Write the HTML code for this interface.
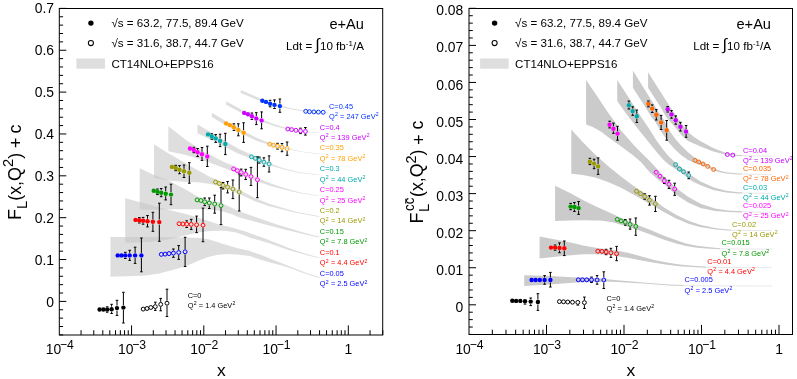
<!DOCTYPE html>
<html><head><meta charset="utf-8"><title>FL</title>
<style>html,body{margin:0;padding:0;background:#fff}svg{display:block}text{font-family:"Liberation Sans", sans-serif;fill:#000}</style>
</head><body>
<svg width="797" height="379" viewBox="0 0 797 379">
<rect width="797" height="379" fill="#fff"/>
<defs><filter id="idf" x="0" y="0" width="797" height="379" filterUnits="userSpaceOnUse" color-interpolation-filters="sRGB"><feOffset dx="0" dy="0"/></filter></defs>
<g filter="url(#idf)">
<g>
<polygon points="110.5,237 143.6,237 172.6,237.2 187,237.4 199,237.9 208.5,239.2 218,242.2 227.5,245.3 237,248 250,251.1 260,254.6 270,258.6 280,262.5 290,266.5 300,270.5 310,274.2 319.4,277.1 319.4,278.1 310,275.2 300,271.7 290,268 280,265 270,262.4 260,259.4 250,256.1 237,254.6 227.5,254 218,254.7 209,256.8 199,260.6 187,265.7 172.6,270 158,273.8 143.6,275.8 110.5,276.7" fill="#c6c6c6" fill-opacity="0.58"/>
<polygon points="125.2,198.2 139.7,202 160.6,207.7 173.3,210.9 186,214 198.6,217.8 210,221.6 220,224.7 232.7,227.8 245.3,231.6 255,235 265,238.5 275,242.6 285,246.5 295,250.3 305,253.6 319.3,257.4 319.3,258.2 310,255.9 300,253.3 290,250.4 280,247 270,243.6 260,240.6 250,237.8 245,235.6 235,232.3 225,230.8 216,230.8 208,231.3 198,232.5 186,235.3 173,238.5 160,241 146,242.2 125.2,242.8" fill="#c6c6c6" fill-opacity="0.58"/>
<polygon points="139.7,168.2 154,174.9 168,180.3 180,186.6 190,192.1 196,195.8 205,199.3 221,202.7 232.7,208.3 238,210.9 250.6,215.3 263.3,219.7 276,224.2 288.6,228 300,231.5 308.6,234 319.3,236.5 319.3,237.5 308.6,235.2 300,233.2 288.6,230.5 276,227.3 263.3,223.9 250.6,220.4 238,217 232.7,214.6 221,210.9 212,209.8 200,209.2 180,209.3 160,209.6 139.7,209.7" fill="#c6c6c6" fill-opacity="0.58"/>
<polygon points="154,144.3 167,152.6 180,160 192,167 200,171.5 210,177 215.4,179 219.2,180.7 223,182.8 225,183.66 227.5,184.69 232.9,186.78 239,189.9 239.2,190.01 254,197.6 254.2,197.71 270,203.98 270.6,204.22 295.9,211.8 296,211.82 319.3,216.3 319.3,216.9 296,212.82 295.9,212.8 270.6,206.58 270,206.38 254.2,200.9 254,200.8 239.2,193.99 239,193.9 232.9,191.22 227.5,189.51 225,188.66 223,188 219.2,186.3 215.4,185 210,184 200,182.6 190,181.9 180,181.6 168,180.6 154,178" fill="#c6c6c6" fill-opacity="0.58"/>
<polygon points="168.3,126.3 186,139.9 205,152.3 224,162.1 233.6,166.1 237.4,168.07 241.2,170.03 245,171.8 245.7,172.13 251.1,174.45 257,177.7 257.4,177.92 270,183.3 285,188.35 300,192.4 319.3,195.7 319.3,196.3 300,193.2 285,189.65 270,185.7 257.4,181.48 257,181.3 251.1,178.55 245.7,176.67 245,176.4 241.2,174.97 237.4,173.33 233.6,171.7 224,168 205,160.8 186,155.1 168.3,151.3" fill="#c6c6c6" fill-opacity="0.58"/>
<polygon points="197.5,124.4 207.9,130.53 211.7,132.83 215,134.65 215.5,134.92 219.9,137.62 225.3,140.96 235,146.75 238,148.52 251.5,154.86 255,156.47 255.3,156.62 259.3,158.56 263.9,160.93 269.1,163.05 270,163.4 285,168.85 300,172.22 319.3,174.7 319.3,175.3 300,172.98 285,169.75 270,165.2 269.1,164.95 263.9,163.47 259.3,161.64 255.3,160.18 255,160.07 251.5,158.74 238,153.48 235,151.95 225.3,147.04 219.9,144.18 215.5,141.88 215,141.65 211.7,140.17 207.9,138.27 197.5,133.2" fill="#c6c6c6" fill-opacity="0.58"/>
<polygon points="211.8,112.7 226,121.36 229.8,123.1 230,123.2 233.8,125.25 238.2,128.01 243.5,130.88 245,131.66 256,137.59 265,141.32 269.7,143.23 273.5,144.33 277.5,145.44 282,146.67 285,147.51 287.1,148.08 300,151.15 319.3,153.7 319.3,154.3 300,151.85 287.1,149.12 285,148.61 282,147.93 277.5,146.96 273.5,146.07 269.7,145.17 265,143.52 256,140.41 245,135.26 243.5,134.52 238.2,131.79 233.8,129.15 230,127.2 229.8,127.1 226,125.44 211.8,117.1" fill="#c6c6c6" fill-opacity="0.58"/>
<polygon points="226.1,101.3 244,111.09 245,111.49 247.8,112.67 251.8,114.66 256.2,117.16 261.5,119.19 262,119.38 275,124.44 285,127.59 287.8,128.45 291.6,129.11 295.9,129.88 300,130.48 300.5,130.55 305.4,131.16 319.3,132.7 319.3,133.3 305.4,131.84 300.5,131.25 300,131.18 295.9,130.72 291.6,130.09 287.8,129.55 285,128.79 275,126.16 262,121.78 261.5,121.61 256.2,119.84 251.8,117.54 247.8,115.73 245,114.69 244,114.31 226.1,104.7" fill="#c6c6c6" fill-opacity="0.58"/>
<polygon points="240.7,89.9 262,99.26 265,100.33 265.8,100.63 270,102.67 274.4,104.01 279.7,105.29 280,105.37 292,108.54 295,109.1 305.7,110.93 309.5,111.34 313.9,111.56 318.4,111.77 323.2,111.99 328,112.2 328,112.8 323.2,112.61 318.4,112.43 313.9,112.24 309.5,112.06 305.7,111.67 295,109.9 292,109.46 280,106.77 279.7,106.71 274.4,105.79 270,104.73 265.8,102.97 265,102.73 262,101.74 240.7,92.9" fill="#c6c6c6" fill-opacity="0.58"/>
</g>
<g>
<polygon points="524.2,275.3 550,276.1 576,277.6 599,278.2 604,278.9 617,280.2 630,281.2 643,282.4 656,283.6 669,284.6 683,285.1 683,285.9 669,285.5 656,284.6 643,283.6 630,282.7 617,282 604,281.6 599,281.9 576,282.6 550,284.6 524.2,285.9" fill="#cbcbcb"/>
<path d="M683 285.5L698 285.8L772 286" stroke="#cbcbcb" stroke-width="0.45" fill="none"/>
<polygon points="539.6,236.6 558,240 570.6,242.6 583.3,245.5 596,247.8 608.6,249.6 616.3,250.6 629,253 641.6,256.6 654.3,260 667,262.6 679.6,264.6 692.3,265.8 705,266.6 706,266.61 706,267.71 705,267.7 692.3,267.1 679.6,266.2 667,264.8 654.3,262.8 641.6,260.4 629,258 616.3,256 608.6,254.8 596,254.2 583.3,254.3 570.6,255.2 558,256.5 539.6,258.4" fill="#cbcbcb"/>
<path d="M706 267.16L721 267.48L772 267.7" stroke="#cbcbcb" stroke-width="0.45" fill="none"/>
<polygon points="555.1,185.7 570.6,193.3 583.3,200.3 596,206.6 600,208.3 612.7,214 625.3,219.7 638,225.2 650.6,230 663.3,235.4 676,240 686,243.4 697,245.8 710,247.3 720,248.14 720,249.17 710,248.7 697,247.7 686,246 676,243.4 663.3,239.4 650.6,234.6 638,230 625.3,226 612.7,222.2 600,220.5 596,220.5 583.3,220.3 570.6,220.5 555.1,221.1" fill="#cbcbcb"/>
<path d="M720 248.65L735 248.95L772 249.15" stroke="#cbcbcb" stroke-width="0.45" fill="none"/>
<polygon points="571.3,129.5 582.7,142.1 595.3,154.8 608,166.1 620.6,176.3 633.3,185.7 646,194.3 655,200.8 663.3,207 676,214.8 688.6,220.7 700,224.8 716,228.3 731,229.7 731,230.7 716,229.5 700,226.9 688.6,223.7 676,218.6 663.3,211.8 655,206.8 649.7,204 643.4,200.3 633.3,194.6 620.6,187.6 608,182 595.3,177.5 582.7,175 571.3,173.7" fill="#cbcbcb"/>
<path d="M731 230.2L746 230.44L772 230.6" stroke="#cbcbcb" stroke-width="0.45" fill="none"/>
<polygon points="586.1,79.9 597,96 608,112.5 620.6,130 633.3,144.5 642,153.5 650,161.3 662.7,175.2 675.3,187.2 688,196.7 700.6,203.7 715,208.5 728,210.6 742,211.37 742,212.38 728,211.9 715,210.9 700.6,208 688,202.4 675.3,194.2 662.7,183 658.6,180 650,172.5 646,168 640.9,162 633.3,155.4 620.6,145.9 608,137 601.6,132 592.8,126.9 586.1,124.4" fill="#cbcbcb"/>
<path d="M742 211.88L757 212.13L772 212.3" stroke="#cbcbcb" stroke-width="0.45" fill="none"/>
<polygon points="617.2,79.9 628,96.5 638.4,113 650,130.1 656.3,140.3 662.7,149.1 669,156.7 675.5,162.5 683,169 691.8,175.8 700.6,181.5 713.3,187.3 726,190.8 738.6,192.3 742,192.36 742,193.45 738.6,193.4 726,192.5 713.3,190.1 700.6,185.3 691.8,180.9 683,174 675.5,169 669,164.8 663.7,160 657,152.5 650,143.7 640,131.5 629.5,118 625.7,113 617.2,101" fill="#cbcbcb"/>
<path d="M742 192.91L757 193.2L772 193.4" stroke="#cbcbcb" stroke-width="0.45" fill="none"/>
<polygon points="632.9,70.6 645,90 658.6,112 663.9,120 669,130.1 675.3,139 681.6,146 688,152.3 694.3,157.3 700,160.8 707.8,164.8 713.5,168.2 720,170.8 726,172.2 738.6,173.5 742,173.57 742,174.57 738.6,174.5 726,173.4 720,172.2 713.5,170.6 707.8,167.6 700,164.8 694.3,162.8 688,159.9 681.6,155.4 675.3,149.7 669,142.8 662.7,133.9 654.4,120.5 651,116.5 645.9,108 632.9,87.7" fill="#cbcbcb"/>
<path d="M742 174.07L757 174.45L772 174.7" stroke="#cbcbcb" stroke-width="0.45" fill="none"/>
<polygon points="648.1,72.3 659,89.5 670,106.7 679.1,120 688,132 694,137 700.6,141.3 713.3,148.1 726,152.9 738.6,155 742,155.07 742,156.06 738.6,156 726,154.8 713.3,151.6 700.6,146.6 688,140.9 681.6,135.2 675.3,127.6 669,120.3 666.2,117 661.1,108 648.1,87.7" fill="#cbcbcb"/>
<path d="M742 155.57L757 155.92L772 156.15" stroke="#cbcbcb" stroke-width="0.45" fill="none"/>
</g>
<g>
<path d="M107.2 307V306.8M105.9 306.8H108.5M107.2 312V312.2M105.9 312.2H108.5M111.6 306.7V304.3M110.3 304.3H112.9M111.6 311.7V313.5M110.3 313.5H112.9M117 305.6V300.3M115.7 300.3H118.3M117 310.6V315.4M115.7 315.4H118.3M123.4 305.1V292.3M122.1 292.3H124.7M123.4 310.1V323M122.1 323H124.7" stroke="#000" stroke-width="1" fill="none"/>
<circle cx="99.6" cy="309.5" r="2.2" fill="#000"/><circle cx="103.4" cy="309.5" r="2.2" fill="#000"/><circle cx="107.2" cy="309.5" r="2.2" fill="#000"/><circle cx="111.6" cy="309.2" r="2.2" fill="#000"/><circle cx="117" cy="308.1" r="2.2" fill="#000"/><circle cx="123.4" cy="307.6" r="2.2" fill="#000"/>
<path d="M155.3 304.1V302.2M154 302.2H156.6M155.3 309.1V310.4M154 310.4H156.6M160.7 301.9V298.4M159.4 298.4H162M160.7 306.9V310.8M159.4 310.8H162M167 300.7V289.2M165.7 289.2H168.3M167 305.7V316.5M165.7 316.5H168.3" stroke="#000" stroke-width="1" fill="none"/>
<circle cx="143.2" cy="309.1" r="1.9500000000000002" fill="none" stroke="#000" stroke-width="1"/><circle cx="147" cy="308.5" r="1.9500000000000002" fill="none" stroke="#000" stroke-width="1"/><circle cx="150.8" cy="307.5" r="1.9500000000000002" fill="none" stroke="#000" stroke-width="1"/><circle cx="155.3" cy="306.6" r="1.9500000000000002" fill="none" stroke="#000" stroke-width="1"/><circle cx="160.7" cy="304.4" r="1.9500000000000002" fill="none" stroke="#000" stroke-width="1"/><circle cx="167" cy="303.2" r="1.9500000000000002" fill="none" stroke="#000" stroke-width="1"/>
<path d="M125.3 252.9V252.3M124 252.3H126.6M125.3 257.9V258.5M124 258.5H126.6M129.7 252.9V250.3M128.4 250.3H131M129.7 257.9V260.4M128.4 260.4H131M135.1 252.9V247.2M133.8 247.2H136.4M135.1 257.9V263.4M133.8 263.4H136.4M141.4 252.9V238M140.1 238H142.7M141.4 257.9V271.8M140.1 271.8H142.7" stroke="#000" stroke-width="1" fill="none"/>
<circle cx="117.7" cy="255.4" r="2.2" fill="#0000ff"/><circle cx="121.5" cy="255.4" r="2.2" fill="#0000ff"/><circle cx="125.3" cy="255.4" r="2.2" fill="#0000ff"/><circle cx="129.7" cy="255.4" r="2.2" fill="#0000ff"/><circle cx="135.1" cy="255.4" r="2.2" fill="#0000ff"/><circle cx="141.4" cy="255.4" r="2.2" fill="#0000ff"/>
<path d="M173.4 250.6V249M172.1 249H174.7M173.4 255.6V257.3M172.1 257.3H174.7M178.7 250V245.6M177.4 245.6H180M178.7 255V259.4M177.4 259.4H180M185.1 249.3V237.3M183.8 237.3H186.4M185.1 254.3V266.5M183.8 266.5H186.4" stroke="#000" stroke-width="1" fill="none"/>
<circle cx="161.3" cy="254.4" r="1.9500000000000002" fill="none" stroke="#0000ff" stroke-width="1"/><circle cx="165.1" cy="254.1" r="1.9500000000000002" fill="none" stroke="#0000ff" stroke-width="1"/><circle cx="169" cy="253.6" r="1.9500000000000002" fill="none" stroke="#0000ff" stroke-width="1"/><circle cx="173.4" cy="253.1" r="1.9500000000000002" fill="none" stroke="#0000ff" stroke-width="1"/><circle cx="178.7" cy="252.5" r="1.9500000000000002" fill="none" stroke="#0000ff" stroke-width="1"/><circle cx="185.1" cy="251.8" r="1.9500000000000002" fill="none" stroke="#0000ff" stroke-width="1"/>
<path d="M139.3 217.8V217.6M138 217.6H140.6M139.3 222.8V223M138 223H140.6M143.1 218.3V217.4M141.8 217.4H144.4M143.1 223.3V224.2M141.8 224.2H144.4M147.5 218.7V215.5M146.2 215.5H148.8M147.5 223.7V226.9M146.2 226.9H148.8M152.9 219.3V212.3M151.6 212.3H154.2M152.9 224.3V231.3M151.6 231.3H154.2M159.3 219.6V203.2M158 203.2H160.6M159.3 224.6V241.3M158 241.3H160.6" stroke="#000" stroke-width="1" fill="none"/>
<circle cx="135.5" cy="219.9" r="2.2" fill="#ff0000"/><circle cx="139.3" cy="220.3" r="2.2" fill="#ff0000"/><circle cx="143.1" cy="220.8" r="2.2" fill="#ff0000"/><circle cx="147.5" cy="221.2" r="2.2" fill="#ff0000"/><circle cx="152.9" cy="221.8" r="2.2" fill="#ff0000"/><circle cx="159.3" cy="222.1" r="2.2" fill="#ff0000"/>
<path d="M186.7 221.7V220.8M185.4 220.8H188M186.7 226.7V227.5M185.4 227.5H188M191.2 221.9V219.3M189.9 219.3H192.5M191.2 226.9V229.4M189.9 229.4H192.5M196.6 222.3V216.1M195.3 216.1H197.9M196.6 227.3V232.6M195.3 232.6H197.9M203 222.7V208.1M201.7 208.1H204.3M203 227.7V241.7M201.7 241.7H204.3" stroke="#000" stroke-width="1" fill="none"/>
<circle cx="179.1" cy="223.7" r="1.9500000000000002" fill="none" stroke="#ff0000" stroke-width="1"/><circle cx="182.9" cy="224" r="1.9500000000000002" fill="none" stroke="#ff0000" stroke-width="1"/><circle cx="186.7" cy="224.2" r="1.9500000000000002" fill="none" stroke="#ff0000" stroke-width="1"/><circle cx="191.2" cy="224.4" r="1.9500000000000002" fill="none" stroke="#ff0000" stroke-width="1"/><circle cx="196.6" cy="224.8" r="1.9500000000000002" fill="none" stroke="#ff0000" stroke-width="1"/><circle cx="203" cy="225.2" r="1.9500000000000002" fill="none" stroke="#ff0000" stroke-width="1"/>
<path d="M157.4 189.3V189M156.1 189H158.7M157.4 194.3V194.6M156.1 194.6H158.7M161.2 190.2V188.5M159.9 188.5H162.5M161.2 195.2V196.7M159.9 196.7H162.5M165.7 191.2V187M164.4 187H167M165.7 196.2V199.9M164.4 199.9H167M171 192.1V184.2M169.7 184.2H172.3M171 197.1V204.7M169.7 204.7H172.3" stroke="#000" stroke-width="1" fill="none"/>
<circle cx="153.7" cy="190.8" r="2.2" fill="#009900"/><circle cx="157.4" cy="191.8" r="2.2" fill="#009900"/><circle cx="161.2" cy="192.7" r="2.2" fill="#009900"/><circle cx="165.7" cy="193.7" r="2.2" fill="#009900"/><circle cx="171" cy="194.6" r="2.2" fill="#009900"/>
<path d="M204.7 199.3V198M203.4 198H206M204.7 204.3V205.6M203.4 205.6H206M209.3 200.5V198M208 198H210.6M209.3 205.5V208.5M208 208.5H210.6M214.7 201.6V195.2M213.4 195.2H216M214.7 206.6V213.2M213.4 213.2H216M221 203.1V187.6M219.7 187.6H222.3M221 208.1V224.6M219.7 224.6H222.3" stroke="#000" stroke-width="1" fill="none"/>
<circle cx="197.1" cy="199.9" r="1.9500000000000002" fill="none" stroke="#009900" stroke-width="1"/><circle cx="200.9" cy="200.5" r="1.9500000000000002" fill="none" stroke="#009900" stroke-width="1"/><circle cx="204.7" cy="201.8" r="1.9500000000000002" fill="none" stroke="#009900" stroke-width="1"/><circle cx="209.3" cy="203" r="1.9500000000000002" fill="none" stroke="#009900" stroke-width="1"/><circle cx="214.7" cy="204.1" r="1.9500000000000002" fill="none" stroke="#009900" stroke-width="1"/><circle cx="221" cy="205.6" r="1.9500000000000002" fill="none" stroke="#009900" stroke-width="1"/>
<path d="M175.7 165.5V165.3M174.4 165.3H177M175.7 170.5V170.7M174.4 170.7H177M179.5 167.2V165.6M178.2 165.6H180.8M179.5 172.2V173.7M178.2 173.7H180.8M184 168.8V165M182.7 165H185.3M184 173.8V177.5M182.7 177.5H185.3M189.3 170.3V162.7M188 162.7H190.6M189.3 175.3V183.2M188 183.2H190.6" stroke="#000" stroke-width="1" fill="none"/>
<circle cx="171.9" cy="166.9" r="2.2" fill="#999900"/><circle cx="175.7" cy="168" r="2.2" fill="#999900"/><circle cx="179.5" cy="169.7" r="2.2" fill="#999900"/><circle cx="184" cy="171.3" r="2.2" fill="#999900"/><circle cx="189.3" cy="172.8" r="2.2" fill="#999900"/>
<path d="M223.1 182.9V182.5M221.8 182.5H224.4M223.1 187.9V189M221.8 189H224.4M227.6 184.6V181.5M226.3 181.5H228.9M227.6 189.6V192.9M226.3 192.9H228.9M232.9 186.5V180M231.6 180H234.2M232.9 191.5V198.6M231.6 198.6H234.2M239.2 189.5V173.9M237.9 173.9H240.5M239.2 194.5V211M237.9 211H240.5" stroke="#000" stroke-width="1" fill="none"/>
<circle cx="215.5" cy="182" r="1.9500000000000002" fill="none" stroke="#999900" stroke-width="1"/><circle cx="219.3" cy="183.5" r="1.9500000000000002" fill="none" stroke="#999900" stroke-width="1"/><circle cx="223.1" cy="185.4" r="1.9500000000000002" fill="none" stroke="#999900" stroke-width="1"/><circle cx="227.6" cy="187.1" r="1.9500000000000002" fill="none" stroke="#999900" stroke-width="1"/><circle cx="232.9" cy="189" r="1.9500000000000002" fill="none" stroke="#999900" stroke-width="1"/><circle cx="239.2" cy="192" r="1.9500000000000002" fill="none" stroke="#999900" stroke-width="1"/>
<path d="M193.8 147.5V147.3M192.5 147.3H195.1M193.8 152.5V152.7M192.5 152.7H195.1M197.6 149.8V148.5M196.3 148.5H198.9M197.6 154.8V156.5M196.3 156.5H198.9M202 151.7V147.5M200.7 147.5H203.3M202 156.7V160.4M200.7 160.4H203.3M207.3 154V146.2M206 146.2H208.6M207.3 159V166.5M206 166.5H208.6" stroke="#000" stroke-width="1" fill="none"/>
<circle cx="190" cy="148.5" r="2.2" fill="#ff00ff"/><circle cx="193.8" cy="150" r="2.2" fill="#ff00ff"/><circle cx="197.6" cy="152.3" r="2.2" fill="#ff00ff"/><circle cx="202" cy="154.2" r="2.2" fill="#ff00ff"/><circle cx="207.3" cy="156.5" r="2.2" fill="#ff00ff"/>
<path d="M241.2 170V169.1M239.9 169.1H242.5M241.2 175V175.9M239.9 175.9H242.5M245.7 171.9V169.3M244.4 169.3H247M245.7 176.9V179.5M244.4 179.5H247M251 174V167.4M249.7 167.4H252.3M251 179V185.4M249.7 185.4H252.3M257.4 177.2V156.8M256.1 156.8H258.7M257.4 182.2V197.7M256.1 197.7H258.7" stroke="#000" stroke-width="1" fill="none"/>
<circle cx="233.6" cy="168.9" r="1.9500000000000002" fill="none" stroke="#ff00ff" stroke-width="1"/><circle cx="237.4" cy="170.7" r="1.9500000000000002" fill="none" stroke="#ff00ff" stroke-width="1"/><circle cx="241.2" cy="172.5" r="1.9500000000000002" fill="none" stroke="#ff00ff" stroke-width="1"/><circle cx="245.7" cy="174.4" r="1.9500000000000002" fill="none" stroke="#ff00ff" stroke-width="1"/><circle cx="251" cy="176.5" r="1.9500000000000002" fill="none" stroke="#ff00ff" stroke-width="1"/><circle cx="257.4" cy="179.7" r="1.9500000000000002" fill="none" stroke="#ff00ff" stroke-width="1"/>
<path d="M211.8 134V133.8M210.5 133.8H213.1M211.8 139V139.2M210.5 139.2H213.1M215.7 135.9V134.6M214.4 134.6H217M215.7 140.9V142.4M214.4 142.4H217M220.1 138.4V134.2M218.8 134.2H221.4M220.1 143.4V146.6M218.8 146.6H221.4M225.3 141.5V133.3M224 133.3H226.6M225.3 146.5V154.6M224 154.6H226.6" stroke="#000" stroke-width="1" fill="none"/>
<circle cx="208" cy="134.4" r="2.2" fill="#00aaaa"/><circle cx="211.8" cy="136.5" r="2.2" fill="#00aaaa"/><circle cx="215.7" cy="138.4" r="2.2" fill="#00aaaa"/><circle cx="220.1" cy="140.9" r="2.2" fill="#00aaaa"/><circle cx="225.3" cy="144" r="2.2" fill="#00aaaa"/>
<path d="M259.3 157.6V157.1M258 157.1H260.6M259.3 162.6V163.1M258 163.1H260.6M263.9 159.7V157.8M262.6 157.8H265.2M263.9 164.7V166.3M262.6 166.3H265.2M269.1 161.5V155.9M267.8 155.9H270.4M269.1 166.5V172M267.8 172H270.4" stroke="#000" stroke-width="1" fill="none"/>
<circle cx="251.5" cy="156.8" r="1.9500000000000002" fill="none" stroke="#00aaaa" stroke-width="1"/><circle cx="255.3" cy="158.4" r="1.9500000000000002" fill="none" stroke="#00aaaa" stroke-width="1"/><circle cx="259.3" cy="160.1" r="1.9500000000000002" fill="none" stroke="#00aaaa" stroke-width="1"/><circle cx="263.9" cy="162.2" r="1.9500000000000002" fill="none" stroke="#00aaaa" stroke-width="1"/><circle cx="269.1" cy="164" r="1.9500000000000002" fill="none" stroke="#00aaaa" stroke-width="1"/>
<path d="M233.9 124.7V123.8M232.6 123.8H235.2M233.9 129.7V130.4M232.6 130.4H235.2M238.3 127.4V123.8M237 123.8H239.6M238.3 132.4V135.8M237 135.8H239.6M243.6 130.2V122.8M242.3 122.8H244.9M243.6 135.2V142.4M242.3 142.4H244.9" stroke="#000" stroke-width="1" fill="none"/>
<circle cx="226.1" cy="123.4" r="2.2" fill="#ffa000"/><circle cx="229.9" cy="125.1" r="2.2" fill="#ffa000"/><circle cx="233.9" cy="127.2" r="2.2" fill="#ffa000"/><circle cx="238.3" cy="129.9" r="2.2" fill="#ffa000"/><circle cx="243.6" cy="132.7" r="2.2" fill="#ffa000"/>
<path d="M277.5 143.7V143.3M276.2 143.3H278.8M277.5 148.7V149.1M276.2 149.1H278.8M282 144.8V143.5M280.7 143.5H283.3M282 149.8V151.7M280.7 151.7H283.3M287.1 146.1V142M285.8 142H288.4M287.1 151.1V155.3M285.8 155.3H288.4" stroke="#000" stroke-width="1" fill="none"/>
<circle cx="269.7" cy="144.2" r="1.9500000000000002" fill="none" stroke="#ffa000" stroke-width="1"/><circle cx="273.5" cy="145.2" r="1.9500000000000002" fill="none" stroke="#ffa000" stroke-width="1"/><circle cx="277.5" cy="146.2" r="1.9500000000000002" fill="none" stroke="#ffa000" stroke-width="1"/><circle cx="282" cy="147.3" r="1.9500000000000002" fill="none" stroke="#ffa000" stroke-width="1"/><circle cx="287.1" cy="148.6" r="1.9500000000000002" fill="none" stroke="#ffa000" stroke-width="1"/>
<path d="M251.9 113.7V113M250.6 113H253.2M251.9 118.7V119.4M250.6 119.4H253.2M256.3 116V112.7M255 112.7H257.6M256.3 121V124.6M255 124.6H257.6M261.6 118V111.9M260.3 111.9H262.9M261.6 123V128.8M260.3 128.8H262.9" stroke="#000" stroke-width="1" fill="none"/>
<circle cx="244.2" cy="112.9" r="2.2" fill="#cc00ff"/><circle cx="247.9" cy="114.3" r="2.2" fill="#cc00ff"/><circle cx="251.9" cy="116.2" r="2.2" fill="#cc00ff"/><circle cx="256.3" cy="118.5" r="2.2" fill="#cc00ff"/><circle cx="261.6" cy="120.5" r="2.2" fill="#cc00ff"/>
<path d="M300.5 128.4V128.2M299.2 128.2H301.8M300.5 133.4V133.6M299.2 133.6H301.8M305.4 129V127.5M304.1 127.5H306.7M305.4 134V135.1M304.1 135.1H306.7" stroke="#000" stroke-width="1" fill="none"/>
<circle cx="287.8" cy="129" r="1.9500000000000002" fill="none" stroke="#cc00ff" stroke-width="1"/><circle cx="291.6" cy="129.6" r="1.9500000000000002" fill="none" stroke="#cc00ff" stroke-width="1"/><circle cx="295.9" cy="130.3" r="1.9500000000000002" fill="none" stroke="#cc00ff" stroke-width="1"/><circle cx="300.5" cy="130.9" r="1.9500000000000002" fill="none" stroke="#cc00ff" stroke-width="1"/><circle cx="305.4" cy="131.5" r="1.9500000000000002" fill="none" stroke="#cc00ff" stroke-width="1"/>
<path d="M270.1 101.2V100.3M268.8 100.3H271.4M270.1 106.2V106.8M268.8 106.8H271.4M274.5 102.4V99.9M273.2 99.9H275.8M274.5 107.4V108.5M273.2 108.5H275.8M279.9 103.6V99M278.6 99H281.2M279.9 108.6V112.3M278.6 112.3H281.2" stroke="#000" stroke-width="1" fill="none"/>
<circle cx="262.3" cy="100.7" r="2.2" fill="#0033ff"/><circle cx="266" cy="101.9" r="2.2" fill="#0033ff"/><circle cx="270.1" cy="103.7" r="2.2" fill="#0033ff"/><circle cx="274.5" cy="104.9" r="2.2" fill="#0033ff"/><circle cx="279.9" cy="106.1" r="2.2" fill="#0033ff"/>
<circle cx="305.7" cy="111.3" r="1.9500000000000002" fill="none" stroke="#0033ff" stroke-width="1"/><circle cx="309.5" cy="111.7" r="1.9500000000000002" fill="none" stroke="#0033ff" stroke-width="1"/><circle cx="313.9" cy="111.9" r="1.9500000000000002" fill="none" stroke="#0033ff" stroke-width="1"/><circle cx="318.4" cy="112.1" r="1.9500000000000002" fill="none" stroke="#0033ff" stroke-width="1"/><circle cx="323.2" cy="112.3" r="1.9500000000000002" fill="none" stroke="#0033ff" stroke-width="1"/>
<path d="M525 303.8V304.1M523.7 304.1H526.3M530.7 299.1V298M529.4 298H532M530.7 304.1V305.6M529.4 305.6H532M537.9 299.5V293.7M536.6 293.7H539.2M537.9 304.5V310.4M536.6 310.4H539.2" stroke="#000" stroke-width="1" fill="none"/>
<circle cx="512.3" cy="300.7" r="2.2" fill="#000"/><circle cx="516.1" cy="300.9" r="2.2" fill="#000"/><circle cx="520.3" cy="300.9" r="2.2" fill="#000"/><circle cx="525" cy="301.3" r="2.2" fill="#000"/><circle cx="530.7" cy="301.6" r="2.2" fill="#000"/><circle cx="537.9" cy="302" r="2.2" fill="#000"/>
<path d="M577.8 304.9V305.1M576.5 305.1H579.1M584.4 300.1V297.1M583.1 297.1H585.7M584.4 305.1V308.5M583.1 308.5H585.7" stroke="#000" stroke-width="1" fill="none"/>
<circle cx="559.4" cy="301.6" r="1.9500000000000002" fill="none" stroke="#000" stroke-width="1"/><circle cx="563.5" cy="301.8" r="1.9500000000000002" fill="none" stroke="#000" stroke-width="1"/><circle cx="567.7" cy="302" r="1.9500000000000002" fill="none" stroke="#000" stroke-width="1"/><circle cx="572.5" cy="302.2" r="1.9500000000000002" fill="none" stroke="#000" stroke-width="1"/><circle cx="577.8" cy="302.4" r="1.9500000000000002" fill="none" stroke="#000" stroke-width="1"/><circle cx="584.4" cy="302.6" r="1.9500000000000002" fill="none" stroke="#000" stroke-width="1"/>
<path d="M544.6 277.5V275.6M543.3 275.6H545.9M544.6 282.5V284.2M543.3 284.2H545.9M550.4 277.5V272.4M549.1 272.4H551.7M550.4 282.5V287M549.1 287H551.7" stroke="#000" stroke-width="1" fill="none"/>
<circle cx="531.6" cy="280" r="2.2" fill="#0000ff"/><circle cx="535.6" cy="280" r="2.2" fill="#0000ff"/><circle cx="539.8" cy="280" r="2.2" fill="#0000ff"/><circle cx="544.6" cy="280" r="2.2" fill="#0000ff"/><circle cx="550.4" cy="280" r="2.2" fill="#0000ff"/>
<path d="M591.5 277.3V277.1M590.2 277.1H592.8M591.5 282.3V282.5M590.2 282.5H592.8M597.1 277.5V275.6M595.8 275.6H598.4M597.1 282.5V284.2M595.8 284.2H598.4M603.8 277.5V271.8M602.5 271.8H605.1M603.8 282.5V288.5M602.5 288.5H605.1" stroke="#000" stroke-width="1" fill="none"/>
<circle cx="578.3" cy="279.8" r="1.9500000000000002" fill="none" stroke="#0000ff" stroke-width="1"/><circle cx="582.5" cy="279.8" r="1.9500000000000002" fill="none" stroke="#0000ff" stroke-width="1"/><circle cx="586.7" cy="279.8" r="1.9500000000000002" fill="none" stroke="#0000ff" stroke-width="1"/><circle cx="591.5" cy="279.8" r="1.9500000000000002" fill="none" stroke="#0000ff" stroke-width="1"/><circle cx="597.1" cy="280" r="1.9500000000000002" fill="none" stroke="#0000ff" stroke-width="1"/><circle cx="603.8" cy="280" r="1.9500000000000002" fill="none" stroke="#0000ff" stroke-width="1"/>
<path d="M555.1 245.1V245M553.8 245H556.4M555.1 250.1V250.2M553.8 250.2H556.4M559.5 245.4V242.9M558.2 242.9H560.8M559.5 250.4V252.7M558.2 252.7H560.8M564.3 245.8V241M563 241H565.6M564.3 250.8V255.6M563 255.6H565.6" stroke="#000" stroke-width="1" fill="none"/>
<circle cx="551" cy="247.6" r="2.2" fill="#ff0000"/><circle cx="555.1" cy="247.6" r="2.2" fill="#ff0000"/><circle cx="559.5" cy="247.9" r="2.2" fill="#ff0000"/><circle cx="564.3" cy="248.3" r="2.2" fill="#ff0000"/>
<path d="M606.1 249.5V249.3M604.8 249.3H607.4M606.1 254.5V254.7M604.8 254.7H607.4M610.9 250.2V248.3M609.6 248.3H612.2M610.9 255.2V257.4M609.6 257.4H612.2M616.6 251.2V246.4M615.3 246.4H617.9M616.6 256.2V260.7M615.3 260.7H617.9" stroke="#000" stroke-width="1" fill="none"/>
<circle cx="597.8" cy="251.2" r="1.9500000000000002" fill="none" stroke="#ff0000" stroke-width="1"/><circle cx="602" cy="251.4" r="1.9500000000000002" fill="none" stroke="#ff0000" stroke-width="1"/><circle cx="606.1" cy="252" r="1.9500000000000002" fill="none" stroke="#ff0000" stroke-width="1"/><circle cx="610.9" cy="252.7" r="1.9500000000000002" fill="none" stroke="#ff0000" stroke-width="1"/><circle cx="616.6" cy="253.7" r="1.9500000000000002" fill="none" stroke="#ff0000" stroke-width="1"/>
<path d="M570.6 204.1V203.4M569.3 203.4H571.9M570.6 209.1V209.7M569.3 209.7H571.9M574.4 204.5V202.5M573.1 202.5H575.7M574.4 209.5V211.4M573.1 211.4H575.7M578.6 205.6V201.5M577.3 201.5H579.9M578.6 210.6V214.4M577.3 214.4H579.9" stroke="#000" stroke-width="1" fill="none"/>
<circle cx="570.6" cy="206.6" r="2.2" fill="#009900"/><circle cx="574.4" cy="207" r="2.2" fill="#009900"/><circle cx="578.6" cy="208.1" r="2.2" fill="#009900"/>
<path d="M625.3 219.7V219.5M624 219.5H626.6M625.3 224.7V225.2M624 225.2H626.6M630.1 221.9V219M628.8 219H631.4M630.1 226.9V229.2M628.8 229.2H631.4M635.8 223.9V218M634.5 218H637.1M635.8 228.9V235.3M634.5 235.3H637.1" stroke="#000" stroke-width="1" fill="none"/>
<circle cx="617.3" cy="219.4" r="1.9500000000000002" fill="none" stroke="#009900" stroke-width="1"/><circle cx="621.1" cy="220.9" r="1.9500000000000002" fill="none" stroke="#009900" stroke-width="1"/><circle cx="625.3" cy="222.2" r="1.9500000000000002" fill="none" stroke="#009900" stroke-width="1"/><circle cx="630.1" cy="224.4" r="1.9500000000000002" fill="none" stroke="#009900" stroke-width="1"/><circle cx="635.8" cy="226.4" r="1.9500000000000002" fill="none" stroke="#009900" stroke-width="1"/>
<path d="M589.9 159.2V158.3M588.6 158.3H591.2M589.9 164.2V164.6M588.6 164.6H591.2M594.1 161.1V159.2M592.8 159.2H595.4M594.1 166.1V168.7M592.8 168.7H595.4M598.1 163.9V157.9M596.8 157.9H599.4M598.1 168.9V174.4M596.8 174.4H599.4" stroke="#000" stroke-width="1" fill="none"/>
<circle cx="589.9" cy="161.7" r="2.2" fill="#999900"/><circle cx="594.1" cy="163.6" r="2.2" fill="#999900"/><circle cx="598.1" cy="166.4" r="2.2" fill="#999900"/>
<path d="M644.7 194V193.8M643.4 193.8H646M644.7 199V199.2M643.4 199.2H646M649.5 197.6V195.7M648.2 195.7H650.8M649.5 202.6V205.1M648.2 205.1H650.8M655.4 201.2V196.3M654.1 196.3H656.7M655.4 206.2V211.5M654.1 211.5H656.7" stroke="#000" stroke-width="1" fill="none"/>
<circle cx="636.5" cy="191.2" r="1.9500000000000002" fill="none" stroke="#999900" stroke-width="1"/><circle cx="640.5" cy="193.6" r="1.9500000000000002" fill="none" stroke="#999900" stroke-width="1"/><circle cx="644.7" cy="196.5" r="1.9500000000000002" fill="none" stroke="#999900" stroke-width="1"/><circle cx="649.5" cy="200.1" r="1.9500000000000002" fill="none" stroke="#999900" stroke-width="1"/><circle cx="655.4" cy="203.7" r="1.9500000000000002" fill="none" stroke="#999900" stroke-width="1"/>
<path d="M609.6 122.3V121.2M608.3 121.2H610.9M609.6 127.3V127.9M608.3 127.9H610.9M613.4 126.3V123.1M612.1 123.1H614.7M613.4 131.3V133.3M612.1 133.3H614.7M617.5 131.1V126.3M616.2 126.3H618.8M617.5 136.1V140.2M616.2 140.2H618.8" stroke="#000" stroke-width="1" fill="none"/>
<circle cx="609.6" cy="124.8" r="2.2" fill="#ff00ff"/><circle cx="613.4" cy="128.8" r="2.2" fill="#ff00ff"/><circle cx="617.5" cy="133.6" r="2.2" fill="#ff00ff"/>
<path d="M664.3 178.3V178.1M663 178.1H665.6M664.3 183.3V183.5M663 183.5H665.6M669 181.8V180.3M667.7 180.3H670.3M669 186.8V188.5M667.7 188.5H670.3M674.7 186.5V183.2M673.4 183.2H676M674.7 191.5V195.4M673.4 195.4H676" stroke="#000" stroke-width="1" fill="none"/>
<circle cx="656.2" cy="172.3" r="1.9500000000000002" fill="none" stroke="#ff00ff" stroke-width="1"/><circle cx="660" cy="176.2" r="1.9500000000000002" fill="none" stroke="#ff00ff" stroke-width="1"/><circle cx="664.3" cy="180.8" r="1.9500000000000002" fill="none" stroke="#ff00ff" stroke-width="1"/><circle cx="669" cy="184.3" r="1.9500000000000002" fill="none" stroke="#ff00ff" stroke-width="1"/><circle cx="674.7" cy="189" r="1.9500000000000002" fill="none" stroke="#ff00ff" stroke-width="1"/>
<path d="M628.9 102.7V101M627.6 101H630.2M628.9 107.7V109M627.6 109H630.2M632.7 108.6V106.8M631.4 106.8H634M632.7 113.6V115.3M631.4 115.3H634M636.8 113.7V110M635.5 110H638.1M636.8 118.7V122.5M635.5 122.5H638.1" stroke="#000" stroke-width="1" fill="none"/>
<circle cx="628.9" cy="105.2" r="2.2" fill="#00aaaa"/><circle cx="632.7" cy="111.1" r="2.2" fill="#00aaaa"/><circle cx="636.8" cy="116.2" r="2.2" fill="#00aaaa"/>
<path d="M688.7 172.9V172M687.4 172H690M688.7 177.9V178.7M687.4 178.7H690" stroke="#000" stroke-width="1" fill="none"/>
<circle cx="675.6" cy="164.6" r="1.9500000000000002" fill="none" stroke="#00aaaa" stroke-width="1"/><circle cx="679.5" cy="169" r="1.9500000000000002" fill="none" stroke="#00aaaa" stroke-width="1"/><circle cx="683.6" cy="171.7" r="1.9500000000000002" fill="none" stroke="#00aaaa" stroke-width="1"/><circle cx="688.7" cy="175.4" r="1.9500000000000002" fill="none" stroke="#00aaaa" stroke-width="1"/>
<path d="M648.4 101.4V101M647.1 101H649.7M648.4 106.4V106.8M647.1 106.8H649.7M652.2 106.1V104.9M650.9 104.9H653.5M652.2 111.1V112.5M650.9 112.5H653.5M656.3 112.2V109.6M655 109.6H657.6M656.3 117.2V120M655 120H657.6M661.1 119.9V115.4M659.8 115.4H662.4M661.1 124.9V129.5M659.8 129.5H662.4M666.7 127.6V120.5M665.4 120.5H668M666.7 132.6V140.2M665.4 140.2H668" stroke="#000" stroke-width="1" fill="none"/>
<circle cx="648.4" cy="103.9" r="2.2" fill="#ff6600"/><circle cx="652.2" cy="108.6" r="2.2" fill="#ff6600"/><circle cx="656.3" cy="114.7" r="2.2" fill="#ff6600"/><circle cx="661.1" cy="122.4" r="2.2" fill="#ff6600"/><circle cx="666.7" cy="130.1" r="2.2" fill="#ff6600"/>
<circle cx="695" cy="160.4" r="1.9500000000000002" fill="none" stroke="#ff6600" stroke-width="1"/><circle cx="698.8" cy="162" r="1.9500000000000002" fill="none" stroke="#ff6600" stroke-width="1"/><circle cx="703.1" cy="164" r="1.9500000000000002" fill="none" stroke="#ff6600" stroke-width="1"/><circle cx="707.7" cy="166.4" r="1.9500000000000002" fill="none" stroke="#ff6600" stroke-width="1"/><circle cx="713.6" cy="169.5" r="1.9500000000000002" fill="none" stroke="#ff6600" stroke-width="1"/>
<path d="M667.7 106.8V106.6M666.4 106.6H669M667.7 111.8V112M666.4 112H669M671.5 111.9V110.6M670.2 110.6H672.8M671.5 116.9V118.2M670.2 118.2H672.8M675.7 117.8V115.9M674.4 115.9H677M675.7 122.8V124.2M674.4 124.2H677M680.4 124.3V122.3M679.1 122.3H681.7M680.4 129.3V131M679.1 131H681.7M686.1 129V125.5M684.8 125.5H687.4M686.1 134V137.3M684.8 137.3H687.4" stroke="#000" stroke-width="1" fill="none"/>
<circle cx="667.7" cy="109.3" r="2.2" fill="#cc00ff"/><circle cx="671.5" cy="114.4" r="2.2" fill="#cc00ff"/><circle cx="675.7" cy="120.3" r="2.2" fill="#cc00ff"/><circle cx="680.4" cy="126.8" r="2.2" fill="#cc00ff"/><circle cx="686.1" cy="131.5" r="2.2" fill="#cc00ff"/>
<circle cx="727.3" cy="154.5" r="1.9500000000000002" fill="none" stroke="#cc00ff" stroke-width="1"/><circle cx="732.8" cy="155.1" r="1.9500000000000002" fill="none" stroke="#cc00ff" stroke-width="1"/>
</g>
<g>
<text x="329" y="108.63" font-size="7.4" style="fill:#0033ff">C=0.45</text>
<text x="329" y="118.83" font-size="7.4" style="fill:#0033ff">Q<tspan dx="0.2" dy="-2.7" font-size="5.2">2</tspan><tspan dx="0.2" dy="2.7"> = 247 GeV</tspan><tspan dx="0.2" dy="-2.7" font-size="5.2">2</tspan></text>
<text x="319.8" y="129.56" font-size="7.4" style="fill:#cc00ff">C=0.4</text>
<text x="319.8" y="139.76" font-size="7.4" style="fill:#cc00ff">Q<tspan dx="0.2" dy="-2.7" font-size="5.2">2</tspan><tspan dx="0.2" dy="2.7"> = 139 GeV</tspan><tspan dx="0.2" dy="-2.7" font-size="5.2">2</tspan></text>
<text x="319.8" y="150.49" font-size="7.4" style="fill:#ffa000">C=0.35</text>
<text x="319.8" y="160.69" font-size="7.4" style="fill:#ffa000">Q<tspan dx="0.2" dy="-2.7" font-size="5.2">2</tspan><tspan dx="0.2" dy="2.7"> = 78 GeV</tspan><tspan dx="0.2" dy="-2.7" font-size="5.2">2</tspan></text>
<text x="319.8" y="171.42" font-size="7.4" style="fill:#00aaaa">C=0.3</text>
<text x="319.8" y="181.62" font-size="7.4" style="fill:#00aaaa">Q<tspan dx="0.2" dy="-2.7" font-size="5.2">2</tspan><tspan dx="0.2" dy="2.7"> = 44 GeV</tspan><tspan dx="0.2" dy="-2.7" font-size="5.2">2</tspan></text>
<text x="319.8" y="192.35" font-size="7.4" style="fill:#ff00ff">C=0.25</text>
<text x="319.8" y="202.55" font-size="7.4" style="fill:#ff00ff">Q<tspan dx="0.2" dy="-2.7" font-size="5.2">2</tspan><tspan dx="0.2" dy="2.7"> = 25 GeV</tspan><tspan dx="0.2" dy="-2.7" font-size="5.2">2</tspan></text>
<text x="319.8" y="213.28" font-size="7.4" style="fill:#999900">C=0.2</text>
<text x="319.8" y="223.48" font-size="7.4" style="fill:#999900">Q<tspan dx="0.2" dy="-2.7" font-size="5.2">2</tspan><tspan dx="0.2" dy="2.7"> = 14 GeV</tspan><tspan dx="0.2" dy="-2.7" font-size="5.2">2</tspan></text>
<text x="319.8" y="234.21" font-size="7.4" style="fill:#009900">C=0.15</text>
<text x="319.8" y="244.41" font-size="7.4" style="fill:#009900">Q<tspan dx="0.2" dy="-2.7" font-size="5.2">2</tspan><tspan dx="0.2" dy="2.7"> = 7.8 GeV</tspan><tspan dx="0.2" dy="-2.7" font-size="5.2">2</tspan></text>
<text x="319.8" y="255.14" font-size="7.4" style="fill:#ff0000">C=0.1</text>
<text x="319.8" y="265.34" font-size="7.4" style="fill:#ff0000">Q<tspan dx="0.2" dy="-2.7" font-size="5.2">2</tspan><tspan dx="0.2" dy="2.7"> = 4.4 GeV</tspan><tspan dx="0.2" dy="-2.7" font-size="5.2">2</tspan></text>
<text x="319.8" y="276.07" font-size="7.4" style="fill:#0000ff">C=0.05</text>
<text x="319.8" y="286.27" font-size="7.4" style="fill:#0000ff">Q<tspan dx="0.2" dy="-2.7" font-size="5.2">2</tspan><tspan dx="0.2" dy="2.7"> = 2.5 GeV</tspan><tspan dx="0.2" dy="-2.7" font-size="5.2">2</tspan></text>
<text x="187.7" y="297.5" font-size="7.4" style="fill:#000">C=0</text>
<text x="187.7" y="307.6" font-size="7.4" style="fill:#000">Q<tspan dx="0.2" dy="-2.7" font-size="5.2">2</tspan><tspan dx="0.2" dy="2.7"> = 1.4 GeV</tspan><tspan dx="0.2" dy="-2.7" font-size="5.2">2</tspan></text>
<text x="743" y="152.76" font-size="7.4" style="fill:#cc00ff">C=0.04</text>
<text x="743" y="162.86" font-size="7.4" style="fill:#cc00ff">Q<tspan dx="0.2" dy="-2.7" font-size="5.2">2</tspan><tspan dx="0.2" dy="2.7"> = 139 GeV</tspan><tspan dx="0.2" dy="-2.7" font-size="5.2">2</tspan></text>
<text x="743" y="171.29" font-size="7.4" style="fill:#ff6600">C=0.035</text>
<text x="743" y="181.39" font-size="7.4" style="fill:#ff6600">Q<tspan dx="0.2" dy="-2.7" font-size="5.2">2</tspan><tspan dx="0.2" dy="2.7"> = 78 GeV</tspan><tspan dx="0.2" dy="-2.7" font-size="5.2">2</tspan></text>
<text x="743" y="189.82" font-size="7.4" style="fill:#00aaaa">C=0.03</text>
<text x="743" y="199.92" font-size="7.4" style="fill:#00aaaa">Q<tspan dx="0.2" dy="-2.7" font-size="5.2">2</tspan><tspan dx="0.2" dy="2.7"> = 44 GeV</tspan><tspan dx="0.2" dy="-2.7" font-size="5.2">2</tspan></text>
<text x="743" y="208.35" font-size="7.4" style="fill:#ff00ff">C=0.025</text>
<text x="743" y="218.45" font-size="7.4" style="fill:#ff00ff">Q<tspan dx="0.2" dy="-2.7" font-size="5.2">2</tspan><tspan dx="0.2" dy="2.7"> = 25 GeV</tspan><tspan dx="0.2" dy="-2.7" font-size="5.2">2</tspan></text>
<text x="732" y="226.88" font-size="7.4" style="fill:#999900">C=0.02</text>
<text x="732" y="236.98" font-size="7.4" style="fill:#999900">Q<tspan dx="0.2" dy="-2.7" font-size="5.2">2</tspan><tspan dx="0.2" dy="2.7"> = 14 GeV</tspan><tspan dx="0.2" dy="-2.7" font-size="5.2">2</tspan></text>
<text x="721.5" y="245.41" font-size="7.4" style="fill:#009900">C=0.015</text>
<text x="721.5" y="255.51" font-size="7.4" style="fill:#009900">Q<tspan dx="0.2" dy="-2.7" font-size="5.2">2</tspan><tspan dx="0.2" dy="2.7"> = 7.8 GeV</tspan><tspan dx="0.2" dy="-2.7" font-size="5.2">2</tspan></text>
<text x="707.3" y="263.94" font-size="7.4" style="fill:#ff0000">C=0.01</text>
<text x="707.3" y="274.04" font-size="7.4" style="fill:#ff0000">Q<tspan dx="0.2" dy="-2.7" font-size="5.2">2</tspan><tspan dx="0.2" dy="2.7"> = 4.4 GeV</tspan><tspan dx="0.2" dy="-2.7" font-size="5.2">2</tspan></text>
<text x="684.6" y="282.47" font-size="7.4" style="fill:#0000ff">C=0.005</text>
<text x="684.6" y="292.57" font-size="7.4" style="fill:#0000ff">Q<tspan dx="0.2" dy="-2.7" font-size="5.2">2</tspan><tspan dx="0.2" dy="2.7"> = 2.5 GeV</tspan><tspan dx="0.2" dy="-2.7" font-size="5.2">2</tspan></text>
<text x="606.5" y="300.8" font-size="7.4" style="fill:#000">C=0</text>
<text x="606.5" y="310.5" font-size="7.4" style="fill:#000">Q<tspan dx="0.2" dy="-2.7" font-size="5.2">2</tspan><tspan dx="0.2" dy="2.7"> = 1.4 GeV</tspan><tspan dx="0.2" dy="-2.7" font-size="5.2">2</tspan></text>
</g>
<rect x="59.3" y="8.5" width="323.4" height="326.5" fill="none" stroke="#000" stroke-width="1"/>
<path d="M81.05 335V330.2M93.77 335V330.2M102.8 335V330.2M109.8 335V330.2M115.52 335V330.2M120.36 335V330.2M124.55 335V330.2M128.24 335V330.2M131.55 335V325.4M153.3 335V330.2M166.02 335V330.2M175.05 335V330.2M182.05 335V330.2M187.77 335V330.2M192.61 335V330.2M196.8 335V330.2M200.49 335V330.2M203.8 335V325.4M225.55 335V330.2M238.27 335V330.2M247.3 335V330.2M254.3 335V330.2M260.02 335V330.2M264.86 335V330.2M269.05 335V330.2M272.74 335V330.2M276.05 335V325.4M297.8 335V330.2M310.52 335V330.2M319.55 335V330.2M326.55 335V330.2M332.27 335V330.2M337.11 335V330.2M341.3 335V330.2M344.99 335V330.2M348.3 335V325.4M370.05 335V330.2M382.77 335V330.2M59.3 301.4H66.3M59.3 259.54H66.3M59.3 217.68H66.3M59.3 175.82H66.3M59.3 133.96H66.3M59.3 92.1H66.3M59.3 50.24H66.3M59.3 8.38H66.3M59.3 334.89H63.1M59.3 326.52H63.1M59.3 318.14H63.1M59.3 309.77H63.1M59.3 293.03H63.1M59.3 284.66H63.1M59.3 276.28H63.1M59.3 267.91H63.1M59.3 251.17H63.1M59.3 242.8H63.1M59.3 234.42H63.1M59.3 226.05H63.1M59.3 209.31H63.1M59.3 200.94H63.1M59.3 192.56H63.1M59.3 184.19H63.1M59.3 167.45H63.1M59.3 159.08H63.1M59.3 150.7H63.1M59.3 142.33H63.1M59.3 125.59H63.1M59.3 117.22H63.1M59.3 108.84H63.1M59.3 100.47H63.1M59.3 83.73H63.1M59.3 75.36H63.1M59.3 66.98H63.1M59.3 58.61H63.1M59.3 41.87H63.1M59.3 33.5H63.1M59.3 25.12H63.1M59.3 16.75H63.1" stroke="#000" stroke-width="1" fill="none"/>
<text transform="translate(54.1,306.7) scale(1,1.06)" font-size="13.9" text-anchor="end">0</text>
<text transform="translate(54.1,264.73) scale(1,1.06)" font-size="13.9" text-anchor="end">0.1</text>
<text transform="translate(54.1,222.77) scale(1,1.06)" font-size="13.9" text-anchor="end">0.2</text>
<text transform="translate(54.1,180.8) scale(1,1.06)" font-size="13.9" text-anchor="end">0.3</text>
<text transform="translate(54.1,138.83) scale(1,1.06)" font-size="13.9" text-anchor="end">0.4</text>
<text transform="translate(54.1,96.86) scale(1,1.06)" font-size="13.9" text-anchor="end">0.5</text>
<text transform="translate(54.1,54.9) scale(1,1.06)" font-size="13.9" text-anchor="end">0.6</text>
<text transform="translate(54.1,12.93) scale(1,1.06)" font-size="13.9" text-anchor="end">0.7</text>
<text transform="translate(45.7,353.5) scale(1,1.06)" font-size="13.9">10</text>
<text transform="translate(60,349) scale(1,1.04)" font-size="12.2">−4</text>
<text transform="translate(117.95,353.5) scale(1,1.06)" font-size="13.9">10</text>
<text transform="translate(132.25,349) scale(1,1.04)" font-size="12.2">−3</text>
<text transform="translate(190.2,353.5) scale(1,1.06)" font-size="13.9">10</text>
<text transform="translate(204.5,349) scale(1,1.04)" font-size="12.2">−2</text>
<text transform="translate(262.45,353.5) scale(1,1.06)" font-size="13.9">10</text>
<text transform="translate(276.75,349) scale(1,1.04)" font-size="12.2">−1</text>
<text transform="translate(348.3,353.5) scale(1,1.06)" font-size="13.9" text-anchor="middle">1</text>
<rect x="469" y="8.5" width="323.5" height="326" fill="none" stroke="#000" stroke-width="1"/>
<path d="M492.33 334.5V329.7M505.98 334.5V329.7M515.66 334.5V329.7M523.17 334.5V329.7M529.31 334.5V329.7M534.5 334.5V329.7M538.99 334.5V329.7M542.95 334.5V329.7M546.5 334.5V324.9M569.83 334.5V329.7M583.48 334.5V329.7M593.16 334.5V329.7M600.67 334.5V329.7M606.81 334.5V329.7M612 334.5V329.7M616.49 334.5V329.7M620.45 334.5V329.7M624 334.5V324.9M647.33 334.5V329.7M660.98 334.5V329.7M670.66 334.5V329.7M678.17 334.5V329.7M684.31 334.5V329.7M689.5 334.5V329.7M693.99 334.5V329.7M697.95 334.5V329.7M701.5 334.5V324.9M724.83 334.5V329.7M738.48 334.5V329.7M748.16 334.5V329.7M755.67 334.5V329.7M761.81 334.5V329.7M767 334.5V329.7M771.49 334.5V329.7M775.45 334.5V329.7M779 334.5V324.9M469 304.8H476M469 267.74H476M469 230.68H476M469 193.62H476M469 156.56H476M469 119.5H476M469 82.44H476M469 45.38H476M469 8.32H476M469 334.45H472.8M469 327.04H472.8M469 319.62H472.8M469 312.21H472.8M469 297.39H472.8M469 289.98H472.8M469 282.56H472.8M469 275.15H472.8M469 260.33H472.8M469 252.92H472.8M469 245.5H472.8M469 238.09H472.8M469 223.27H472.8M469 215.86H472.8M469 208.44H472.8M469 201.03H472.8M469 186.21H472.8M469 178.8H472.8M469 171.38H472.8M469 163.97H472.8M469 149.15H472.8M469 141.74H472.8M469 134.32H472.8M469 126.91H472.8M469 112.09H472.8M469 104.68H472.8M469 97.26H472.8M469 89.85H472.8M469 75.03H472.8M469 67.62H472.8M469 60.2H472.8M469 52.79H472.8M469 37.97H472.8M469 30.56H472.8M469 23.14H472.8M469 15.73H472.8" stroke="#000" stroke-width="1" fill="none"/>
<text transform="translate(463.2,311.9) scale(1,1.06)" font-size="13.9" text-anchor="end">0</text>
<text transform="translate(463.2,274.84) scale(1,1.06)" font-size="13.9" text-anchor="end">0.01</text>
<text transform="translate(463.2,237.78) scale(1,1.06)" font-size="13.9" text-anchor="end">0.02</text>
<text transform="translate(463.2,200.72) scale(1,1.06)" font-size="13.9" text-anchor="end">0.03</text>
<text transform="translate(463.2,163.66) scale(1,1.06)" font-size="13.9" text-anchor="end">0.04</text>
<text transform="translate(463.2,126.6) scale(1,1.06)" font-size="13.9" text-anchor="end">0.05</text>
<text transform="translate(463.2,89.54) scale(1,1.06)" font-size="13.9" text-anchor="end">0.06</text>
<text transform="translate(463.2,52.48) scale(1,1.06)" font-size="13.9" text-anchor="end">0.07</text>
<text transform="translate(463.2,15.42) scale(1,1.06)" font-size="13.9" text-anchor="end">0.08</text>
<text transform="translate(455.4,353.5) scale(1,1.06)" font-size="13.9">10</text>
<text transform="translate(469.7,349) scale(1,1.04)" font-size="12.2">−4</text>
<text transform="translate(532.9,353.5) scale(1,1.06)" font-size="13.9">10</text>
<text transform="translate(547.2,349) scale(1,1.04)" font-size="12.2">−3</text>
<text transform="translate(610.4,353.5) scale(1,1.06)" font-size="13.9">10</text>
<text transform="translate(624.7,349) scale(1,1.04)" font-size="12.2">−2</text>
<text transform="translate(687.9,353.5) scale(1,1.06)" font-size="13.9">10</text>
<text transform="translate(702.2,349) scale(1,1.04)" font-size="12.2">−1</text>
<text transform="translate(779,353.5) scale(1,1.06)" font-size="13.9" text-anchor="middle">1</text>
<text transform="translate(221.3,376) scale(1,1.0)" font-size="17.4" text-anchor="middle">x</text>
<text transform="translate(630.9,376) scale(1,1.0)" font-size="17.4" text-anchor="middle">x</text>
<g transform="translate(20.6,219.9) rotate(-90) scale(1.03,1.09)"><text x="0" y="0" font-size="17.4">F<tspan dy="5.7" font-size="14.2">L</tspan><tspan dy="-5.7">(x,Q</tspan><tspan dy="-6.6" font-size="14.2">2</tspan><tspan dy="6.6">) </tspan><tspan dy="1.7">+</tspan><tspan dy="-1.7" dx="-0.9"> c</tspan></text></g>
<g transform="translate(422.7,223.4) rotate(-90) scale(1.03,1.09)"><text x="0" y="0" font-size="17.4">F</text><text x="11.0" y="5.7" font-size="14.2">L</text><text x="12.0" y="-7.6" font-size="13">cc</text><path d="M19.0 -15.6H24.0" stroke="#000" stroke-width="0.8"/><g transform="translate(25.7,0) scale(0.988,1)"><text x="0" y="0" font-size="17.4">(x,Q<tspan dy="-6.6" font-size="14.2">2</tspan><tspan dy="6.6">) </tspan><tspan dy="1.7">+</tspan><tspan dy="-1.7"> c</tspan></text></g></g>
<circle cx="90.9" cy="23.1" r="2.7" fill="#000"/>
<circle cx="90.9" cy="43.1" r="2.55" fill="none" stroke="#000" stroke-width="1.05"/>
<rect x="76.4" y="58.5" width="28.6" height="10.2" fill="#dedede"/>
<text x="111.4" y="27.2" font-size="11.6">√s = 63.2, 77.5, 89.4 GeV</text>
<text x="111.4" y="47.2" font-size="11.6">√s = 31.6, 38.7, 44.7 GeV</text>
<text x="111.4" y="67.5" font-size="11.55">CT14NLO+EPPS16</text>
<text x="363.9" y="28.9" font-size="14.6" text-anchor="end">e+Au</text>
<text x="312.2" y="49.6" font-size="11.6" text-anchor="end">Ldt =</text>
<text x="315.3" y="50.0" font-size="16.4">∫</text>
<text x="363.9" y="49.6" font-size="11.6" text-anchor="end">10 fb<tspan dy="-4" font-size="8">-1</tspan><tspan dy="4">/A</tspan></text>
<circle cx="494.6" cy="23.1" r="2.7" fill="#000"/>
<circle cx="494.6" cy="43.1" r="2.55" fill="none" stroke="#000" stroke-width="1.05"/>
<rect x="480.1" y="58.5" width="28.6" height="10.2" fill="#dedede"/>
<text x="515.1" y="27.2" font-size="11.6">√s = 63.2, 77.5, 89.4 GeV</text>
<text x="515.1" y="47.2" font-size="11.6">√s = 31.6, 38.7, 44.7 GeV</text>
<text x="515.1" y="67.5" font-size="11.55">CT14NLO+EPPS16</text>
<text x="771" y="28.9" font-size="14.6" text-anchor="end">e+Au</text>
<text x="719.3" y="49.6" font-size="11.6" text-anchor="end">Ldt =</text>
<text x="722.4" y="50.0" font-size="16.4">∫</text>
<text x="771" y="49.6" font-size="11.6" text-anchor="end">10 fb<tspan dy="-4" font-size="8">-1</tspan><tspan dy="4">/A</tspan></text>
</g></svg>
</body></html>
